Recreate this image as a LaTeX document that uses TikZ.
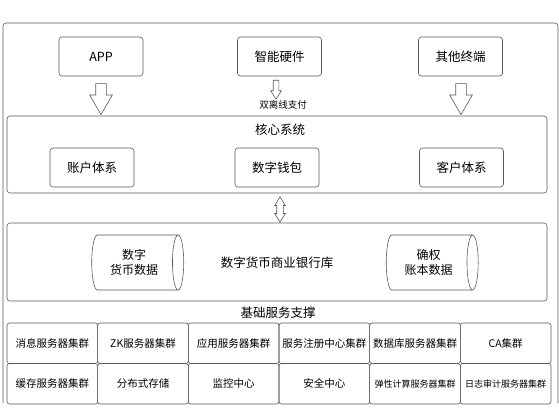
\documentclass[tikz,border=0pt]{standalone}
\usepackage{fontspec}
\setmainfont{Noto Sans CJK SC}
\usetikzlibrary{
  calc,
  positioning,
  shapes.geometric,
  shapes.arrows
}
\tikzset{
  line join=round,
  every picture/.style={line width=0.6pt},
  box/.style={draw=black!65, rounded corners=3pt, minimum width=84pt, minimum height=39pt, align=center, font=\fontsize{12.5}{15}\selectfont},
  frame/.style={draw=black!65, rounded corners=3pt, inner sep=0pt},
  title/.style={font=\fontsize{12.5}{15}\selectfont},
  cell/.style={draw=black!65, rounded corners=2.5pt, minimum width=90.67pt, minimum height=40.5pt, inner sep=0pt, font=\fontsize{10.5}{12}\selectfont},
  smallcell/.style={cell, font=\fontsize{9}{11}\selectfont},
  db/.style={draw=black!65, cylinder, aspect=0.4, minimum width=55pt, minimum height=92pt, align=center, inner sep=1pt, font=\fontsize{12}{15}\selectfont},
  bigarrow/.style={single arrow, draw=black!65, shape border rotate=270, minimum height=31pt, minimum width=0pt, inner xsep=5pt, inner ysep=0pt, single arrow head extend=6pt, single arrow tip angle=60},
  smallarrow/.style={single arrow, draw=black!65, shape border rotate=270, minimum height=19pt, minimum width=0pt, inner xsep=2.5pt, inner ysep=0pt, single arrow head extend=2.5pt, single arrow tip angle=64},
  dblarrow/.style={double arrow, draw=black!65, shape border rotate=90, minimum height=25pt, minimum width=0pt, inner xsep=3pt, inner ysep=0pt, double arrow head extend=2pt, double arrow tip angle=64}
}
\begin{document}
\begin{tikzpicture}[x=1pt,y=-1pt]
  \useasboundingbox (0,0) rectangle (559,412);

  % outer frame, open at the bottom
  \draw[draw=black!65, rounded corners=3pt] (3,403) -- (3,23) -- (558,23) -- (558,403);

  % terminals
  \node[box] (app) at (101,56.5) {APP};
  \node[box] (hw) at (279.5,56.5) {智能硬件};
  \node[box] (other) at (460.5,56.5) {其他终端};

  % core system
  \node[frame, minimum width=540pt, minimum height=77pt] (core) at (277,154.5) {};
  \node[title] (coretitle) at (280,130) {核心系统};
  \node[box] (account) at (92,167.5) {账户体系};
  \node[box] (wallet) at (277,167.5) {数字钱包};
  \node[box] (customer) at (461.5,167.5) {客户体系};

  \node[bigarrow] (arrapp) at (101,94.5) {};
  \node[smallarrow] (arrhw) at (276,87.5) {};
  \node[bigarrow] (arrother) at (461,94.5) {};
  \node[font=\fontsize{9.5}{11}\selectfont] (offline) at (283,105) {双离线支付};

  \node[dblarrow] (link) at (280,209.5) {};

  % bank database
  \node[frame, minimum width=540pt, minimum height=78pt] (bank) at (277,262) {};
  \node[title] (banktitle) at (277,263) {数字货币商业银行库};
  \node[db] (coindata) at (134,262.5) {数字\\货币数据};
  \node[db] (ledger) at (428.5,262.5) {确权\\账本数据};

  % basic services
  \node[title] (basetitle) at (278,313) {基础服务支撑};
  \foreach \txt [count=\i] in {消息服务器集群,ZK服务器集群,应用服务器集群,服务注册中心集群,数据库服务器集群,CA集群}
    \node[cell] (c1-\i) at ({7+90.67*(\i-0.5)},343.25) {\txt};
  \foreach \txt [count=\i] in {缓存服务器集群,分布式存储,监控中心,安全中心}
    \node[cell] (c2-\i) at ({7+90.67*(\i-0.5)},383.75) {\txt};
  \node[smallcell] (c2-5) at ({7+90.67*4.5},383.75) {弹性计算服务器集群};
  \node[smallcell] (c2-6) at ({7+90.67*5.5},383.75) {日志审计服务器集群};
\end{tikzpicture}
\end{document}
